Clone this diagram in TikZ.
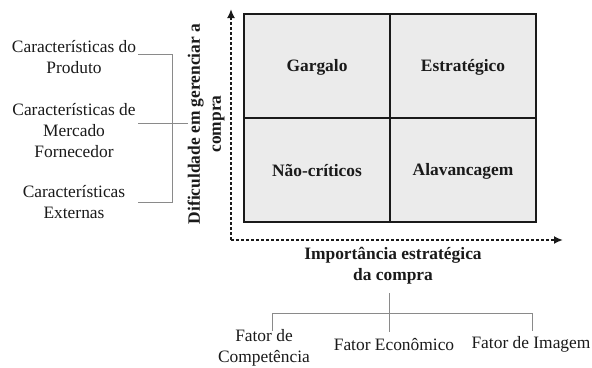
\documentclass[tikz,border=0pt]{standalone}
\usepackage{fontspec}
\setmainfont{Liberation Serif}
\usetikzlibrary{arrows.meta}
\definecolor{cellgray}{HTML}{EBEBEB}
\definecolor{brk}{HTML}{8A8A8A}
\definecolor{ink}{HTML}{1A1A1A}
\begin{document}
\begin{tikzpicture}[x=1pt,y=-1pt,
  txt/.style={font=\fontsize{17.4}{21}\selectfont, text=ink, align=center, inner sep=0pt},
  btxt/.style={txt, font=\fontsize{17.4}{21}\selectfont\bfseries},
  cell/.style={draw=ink, line width=1.8pt, fill=cellgray},
  axis/.style={draw=ink, line width=1.8pt, dash pattern=on 3pt off 2pt, -{Latex[length=9pt,width=8pt]}},
  brack/.style={draw=brk, line width=0.9pt}]
\useasboundingbox (0,0) rectangle (592,367);
% matrix cells
\draw[cell] (244,14) rectangle (536,222);
\draw[ink, line width=1.8pt] (390,14) -- (390,222);
\draw[ink, line width=1.8pt] (244,118) -- (536,118);
\node[btxt] (gar) at (317,67) {Gargalo};
\node[btxt] (est) at (463,67) {Estratégico};
\node[btxt] (nao) at (317,171) {Não-críticos};
\node[btxt] (ala) at (463,171) {Alavancagem};
% axes
\coordinate (o) at (231,240);
\coordinate (ytop) at (231,9);
\coordinate (xend) at (563,240);
\draw[axis] (o) -- (ytop);
\draw[axis] (o) -- (xend);
% axis labels
\node[btxt, rotate=90] (ylab) at (206,124) {Dificuldade em gerenciar a\\compra};
\node[btxt] (xlab) at (393,266) {Importância estratégica\\da compra};
% left factors
\node[txt] (prod) at (74,57.5) {Características do\\Produto};
\node[txt] (merc) at (74,131) {Características de\\Mercado\\Fornecedor};
\node[txt] (ext) at (74,202) {Características\\Externas};
\coordinate (b1) at (138,54);
\coordinate (b1r) at (172,54);
\coordinate (b2) at (138,123);
\coordinate (b2r) at (188,123);
\coordinate (b3) at (138,202);
\coordinate (b3r) at (172,202);
\draw[brack] (b1) -- (b1r) -- (b3r) -- (b3);
\draw[brack] (b2) -- (b2r);
% bottom factors
\coordinate (t0) at (389,293);
\coordinate (tm) at (389,313);
\coordinate (tl) at (272,313);
\coordinate (tr) at (532,313);
\coordinate (tlb) at (272,331);
\coordinate (tmb) at (389,332);
\coordinate (trb) at (532,331);
\draw[brack] (t0) -- (tmb);
\draw[brack] (tl) -- (tr);
\draw[brack] (tl) -- (tlb);
\draw[brack] (tr) -- (trb);
\node[txt] (comp) at (264,348) {Fator de\\Competência};
\node[txt] (econ) at (394,345) {Fator Econômico};
\node[txt] (imag) at (531,344) {Fator de Imagem};
\end{tikzpicture}
\end{document}
